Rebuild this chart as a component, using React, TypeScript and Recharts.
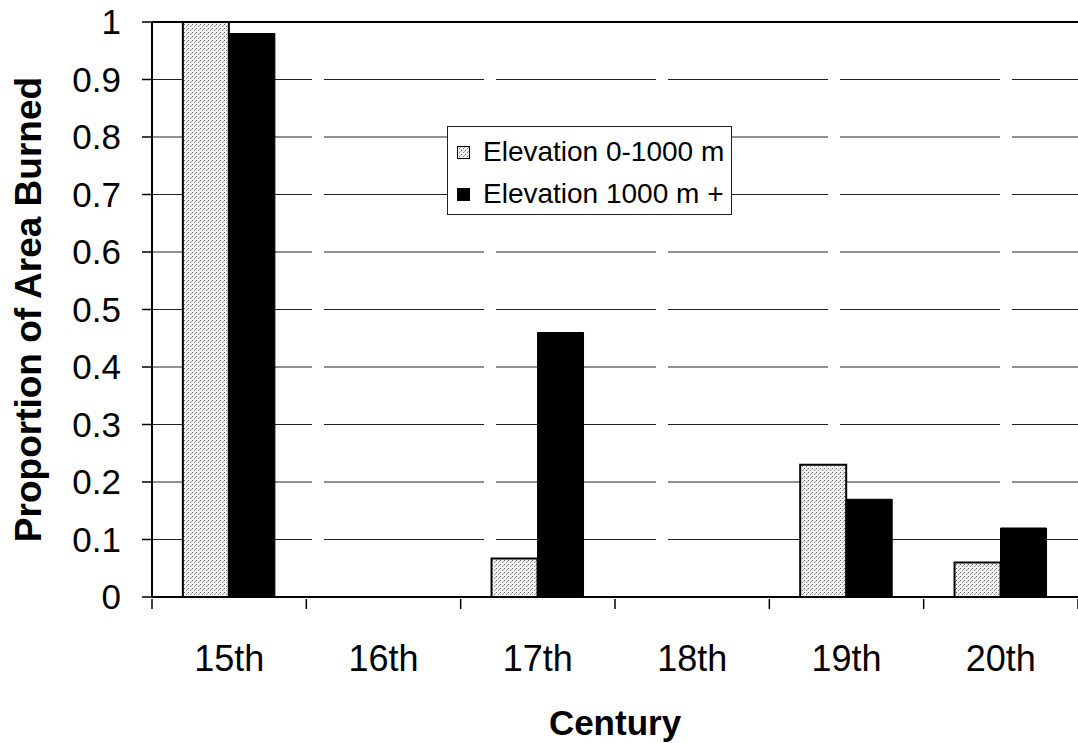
import React from 'react';
import { BarChart, Bar, XAxis, YAxis, CartesianGrid, Legend, ReferenceLine } from 'recharts';

const centuries = ['15th', '16th', '17th', '18th', '19th', '20th'];
const lowElevation = [1.0, 0, 0.067, 0, 0.23, 0.06];
const highElevation = [0.98, 0, 0.46, 0, 0.17, 0.12];
const yTicks = [0, 0.1, 0.2, 0.3, 0.4, 0.5, 0.6, 0.7, 0.8, 0.9, 1];

const data = centuries.map((c, i) => ({
  century: c,
  low: lowElevation[i],
  high: highElevation[i],
}));

const font = '"Liberation Sans", Arial, sans-serif';

// category label plus Excel-style tick marks between categories
const CenturyTick = (props: any) => {
  const { x, y, payload, index, visibleTicksCount } = props;
  const half = payload.offset || 0;
  const isLast = index === visibleTicksCount - 1;
  return (
    <g>
      <line x1={x - half} y1={y} x2={x - half} y2={y + 10} stroke="#000" strokeWidth={1.5} />
      {isLast && <line x1={x + half} y1={y} x2={x + half} y2={y + 10} stroke="#000" strokeWidth={1.5} />}
      <text x={x} y={y + 46} dy="0.71em" textAnchor="middle" fill="#000" fontSize={36} fontFamily={font}>
        {payload.value}
      </text>
    </g>
  );
};

const LegendBox = (props: any) => {
  const items = props.payload || [];
  return (
    <div
      style={{
        width: 283,
        height: 81,
        border: '1px solid #222',
        background: '#fff',
        fontFamily: font,
        fontSize: 28,
        color: '#000',
        boxSizing: 'content-box',
        paddingTop: 6,
      }}
    >
      {items.map((item: any) => (
        <div key={item.value} style={{ display: 'flex', alignItems: 'center', height: 38, marginBottom: 4 }}>
          <svg width={13} height={13} style={{ marginLeft: 9, marginRight: 13 }}>
            <rect
              x={0.5}
              y={0.5}
              width={12}
              height={12}
              fill={item.dataKey === 'low' ? 'url(#dots)' : '#000'}
              stroke="#000"
              strokeWidth={1}
            />
          </svg>
          <span>{item.value}</span>
        </div>
      ))}
    </div>
  );
};

export default function App() {
  return (
    <div style={{ position: 'absolute', left: 0, top: 0, background: '#fff' }}>
      <BarChart
        width={1078}
        height={743}
        data={data}
        margin={{ top: 22, right: 0, left: 0, bottom: 0 }}
        barCategoryGap="20%"
        barGap={0}
      >
        <defs>
          <pattern id="dots" width="4" height="4" patternUnits="userSpaceOnUse">
            <rect width="4" height="4" fill="#f0f0f0" />
            <rect x="0" y="0" width="1" height="1" fill="#666" />
            <rect x="2" y="2" width="1" height="1" fill="#888" />
            <rect x="3" y="1" width="1" height="1" fill="#aaa" />
          </pattern>
        </defs>
        <CartesianGrid
          vertical={false}
          stroke="#222"
          strokeWidth={1}
          strokeDasharray="160 12"
        />
        <ReferenceLine y={1} stroke="#000" strokeWidth={2} />
        <XAxis
          dataKey="century"
          height={146}
          axisLine={{ stroke: '#000', strokeWidth: 2 }}
          tickLine={false}
          tickSize={0}
          tick={<CenturyTick />}
          label={{
            value: 'Century',
            position: 'insideBottom',
            offset: 8,
            style: { fill: '#000', fontSize: 35, fontWeight: 'bold', fontFamily: font },
          }}
        />
        <YAxis
          width={152}
          domain={[0, 1]}
          ticks={yTicks}
          interval={0}
          axisLine={{ stroke: '#000', strokeWidth: 2 }}
          tickLine={{ stroke: '#000', strokeWidth: 1.5 }}
          tickSize={10}
          tickMargin={21}
          tick={{ fill: '#000', fontSize: 35, fontFamily: font }}
          label={{
            value: 'Proportion of Area Burned',
            angle: -90,
            position: 'insideLeft',
            offset: 28,
            style: { textAnchor: 'middle', fill: '#000', fontSize: 37, fontWeight: 'bold', fontFamily: font },
          }}
        />
        <Legend
          layout="vertical"
          align="center"
          verticalAlign="middle"
          wrapperStyle={{ left: 447, top: 126, width: 'auto' }}
          content={<LegendBox />}
        />
        <Bar
          dataKey="low"
          name="Elevation 0-1000 m"
          fill="url(#dots)"
          stroke="#000"
          strokeWidth={2}
          isAnimationActive={false}
        />
        <Bar
          dataKey="high"
          name="Elevation 1000 m +"
          fill="#000"
          stroke="#000"
          strokeWidth={1}
          isAnimationActive={false}
        />
      </BarChart>
    </div>
  );
}
